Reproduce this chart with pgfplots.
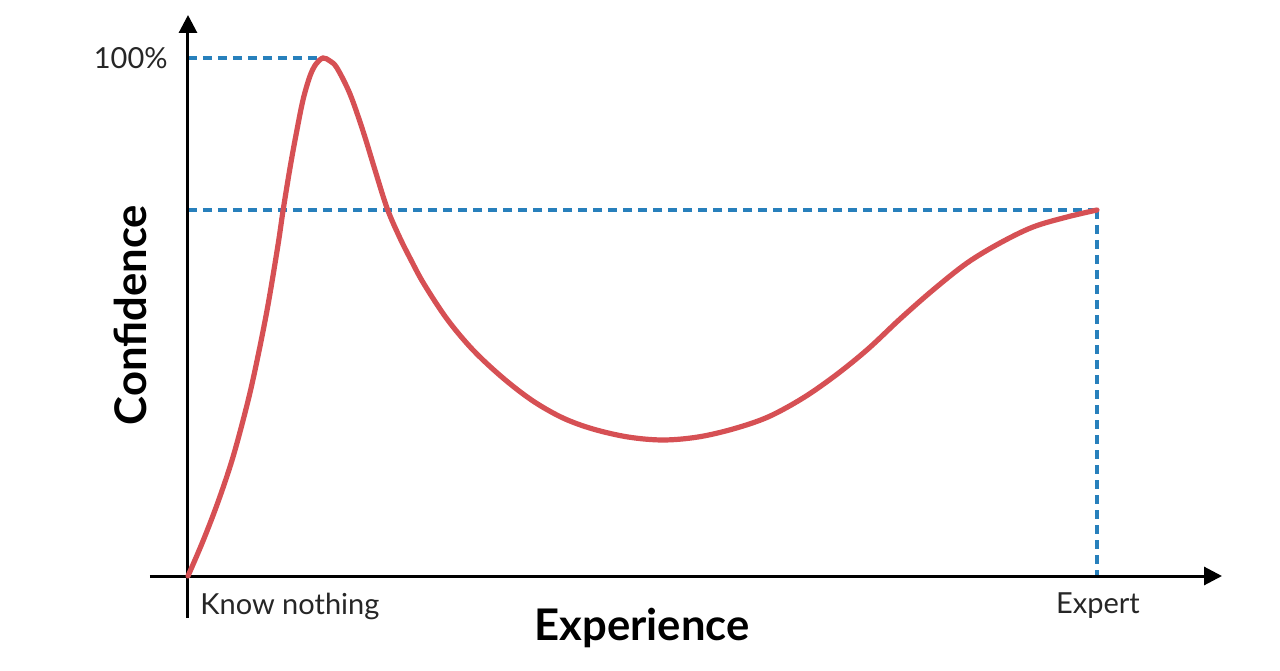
\documentclass[border=0pt]{standalone}
\usepackage{pgfplots}
\pgfplotsset{compat=1.18}
\usepackage{fontspec}
\setmainfont{Lato}
\usetikzlibrary{arrows.meta}
\definecolor{curvered}{RGB}{214,80,84}
\definecolor{dashblue}{RGB}{40,128,188}
\begin{document}
\begin{tikzpicture}
\begin{axis}[
  scale only axis,
  width=536pt, height=301.5pt,
  xmin=-38, xmax=1034, ymin=-42, ymax=561,
  axis lines=none, ticks=none,
  clip=false,
]
% bounding box matching 1280x670 reference
\path (axis cs:-188,-94) rectangle (axis cs:1092,576);
% dashed guides
\addplot[dashblue, line width=1.8pt, dash pattern=on 4.5pt off 3pt] coordinates {(0,518) (135,518)};
\addplot[dashblue, line width=1.8pt, dash pattern=on 4.5pt off 3pt] coordinates {(0,366) (909,366)};
\addplot[dashblue, line width=1.8pt, dash pattern=on 4.5pt off 3pt] coordinates {(909,366) (909,0)};
% axes
\draw[line width=1.5pt, -{Triangle[length=9pt,width=9pt]}] (axis cs:-38,0) -- (axis cs:1034,0);
\draw[line width=1.5pt, -{Triangle[length=9pt,width=9pt]}] (axis cs:0,-42) -- (axis cs:0,561);
% curve
\addplot[curvered, line width=2.6pt, smooth, tension=0.55, line cap=round] coordinates {
(0,0) (15,35) (30,74) (45,119) (60,175) (70,220) (80,271) (90,331) (95,365)
(102,408) (108,441) (115,476) (122,500) (128,512) (135,518) (142,515) (149,508)
(162,482) (175,445) (187,406) (199,368) (211,340) (223,316) (236,292) (259,257)
(285,226) (315,198) (345,175) (375,158) (405,147) (440,139) (475,136) (510,139)
(545,147) (580,159) (615,178) (648,201) (680,227) (712,257) (745,286) (779,313)
(812,333) (845,349) (879,359) (909,366)
};
% labels
\node[anchor=east, inner sep=0pt, font=\fontsize{14.5}{17}\selectfont, text=black!85] at (axis cs:-20,518) {100\%};
\node[anchor=west, inner sep=0pt, font=\fontsize{14.5}{17}\selectfont, text=black!85] at (axis cs:12,-30) {Know nothing};
\node[anchor=center, inner sep=0pt, font=\fontsize{14.5}{17}\selectfont, text=black!85] at (axis cs:910,-30) {Expert};
\node[anchor=center, inner sep=0pt, font=\bfseries\fontsize{21.8}{26}\selectfont] at (axis cs:454,-52) {Experience};
\node[anchor=center, inner sep=0pt, rotate=90, font=\bfseries\fontsize{21.8}{26}\selectfont] at (axis cs:-58,261) {Confidence};
\end{axis}
\end{tikzpicture}
\end{document}
